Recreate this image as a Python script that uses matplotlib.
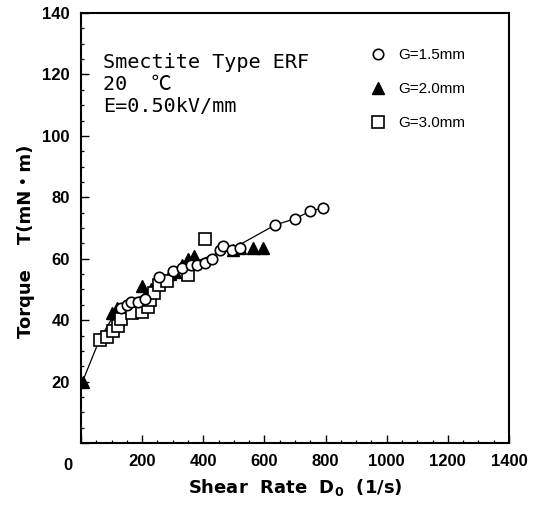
import matplotlib
matplotlib.use("Agg")
import matplotlib.pyplot as plt
from matplotlib.ticker import MultipleLocator, FixedLocator

# ---- data ----
d_g15 = [130, 150, 165, 185, 210, 255, 300, 330, 360, 380, 405, 427, 455, 465, 493, 520, 635, 700, 750, 790]
t_g15 = [44, 45, 46, 46, 47, 54, 56, 57, 58, 58, 58.6, 60, 62.9, 64, 63, 63.5, 71, 73, 75.5, 76.5]

d_g20 = [5, 100, 117, 149, 170, 198, 230, 291, 307, 330, 350, 370, 498, 520, 563, 596]
t_g20 = [20, 42.3, 44, 44.4, 45, 51, 50, 55, 55.8, 58, 60, 61, 63, 63.5, 63.5, 63.5]

d_g30 = [62, 84, 106, 122, 131, 166, 201, 220, 226, 240, 256, 280, 351, 405]
t_g30 = [33.6, 34.6, 36.6, 38.2, 40.3, 42.4, 42.8, 44.4, 46.6, 48.8, 51.5, 52.8, 54.7, 66.4]

d_fit = [5, 62, 110, 150, 200, 250, 300, 350, 400, 450, 500, 635, 700, 750, 790]
t_fit = [20, 34, 42, 45, 48, 52, 55.5, 58, 60, 62, 63.5, 71, 73, 75.5, 76.5]

labels = ["G=1.5mm", "G=2.0mm", "G=3.0mm"]
x_ticks = [0, 200, 400, 600, 800, 1000, 1200, 1400]
y_ticks = [0, 20, 40, 60, 80, 100, 120, 140]

tickfam = ["Liberation Sans", "DejaVu Sans"]
cjk = ["DejaVu Sans", "Noto Sans CJK JP"]

fig = plt.figure(figsize=(5.34, 5.08), dpi=100)
ax = fig.add_axes([81/534, 1-443/508, (509-81)/534, (443-13)/508])

ax.plot(d_fit, t_fit, color="black", lw=0.9, zorder=1)
ax.plot(d_g15, t_g15, ls="none", marker="o", ms=7.5, mfc="white", mec="black", mew=1.2, label=labels[0], zorder=3)
ax.plot(d_g20, t_g20, ls="none", marker="^", ms=8, mfc="black", mec="black", mew=1.0, label=labels[1], zorder=2)
ax.plot(d_g30, t_g30, ls="none", marker="s", ms=8.5, mfc="white", mec="black", mew=1.2, label=labels[2], zorder=2)

ax.set_xlim(0, 1400)
ax.set_ylim(0, 140)
ax.xaxis.set_major_locator(FixedLocator(x_ticks))
ax.yaxis.set_major_locator(FixedLocator(y_ticks))
ax.xaxis.set_minor_locator(MultipleLocator(50))
ax.yaxis.set_minor_locator(MultipleLocator(5))
ax.set_xticklabels([""] + [str(v) for v in x_ticks[1:]])
ax.set_yticklabels([""] + [str(v) for v in y_ticks[1:]])
ax.tick_params(which="major", direction="in", length=6, width=1.0, labelsize=12, pad=8)
ax.tick_params(which="minor", direction="in", length=2.5, width=0.9)
for lab in ax.get_xticklabels() + ax.get_yticklabels():
    lab.set_family(tickfam)
    lab.set_weight("bold")
for s in ax.spines.values():
    s.set_linewidth(1.5)

ax.annotate("0", xy=(0, 0), xycoords="data", xytext=(-9.5, -16), textcoords="offset points",
            ha="center", va="center", fontsize=12, fontweight="bold", family=tickfam)

ax.text(0.052, 0.907, "Smectite Type ERF\n20  \u2103\nE=0.50kV/mm", transform=ax.transAxes,
        ha="left", va="top", fontsize=14.5, family=["DejaVu Sans Mono", "Noto Sans CJK JP"],
        linespacing=1.2)

leg = ax.legend(loc="upper left", bbox_to_anchor=(0.645, 0.95), frameon=False, handlelength=1.0,
                handletextpad=0.8, labelspacing=1.3, prop={"family": tickfam, "size": 11})

ax.set_xlabel(r"Shear  Rate  $\mathbf{D_0}$  (1/s)", fontsize=13, fontweight="bold", labelpad=6)
fig.text(26/534, 1-241/508, "Torque    T(mN\u30fbm)", rotation=90, ha="center", va="center",
         fontsize=13, fontweight="bold", family=cjk)

fig.savefig("out.png", dpi=100)
